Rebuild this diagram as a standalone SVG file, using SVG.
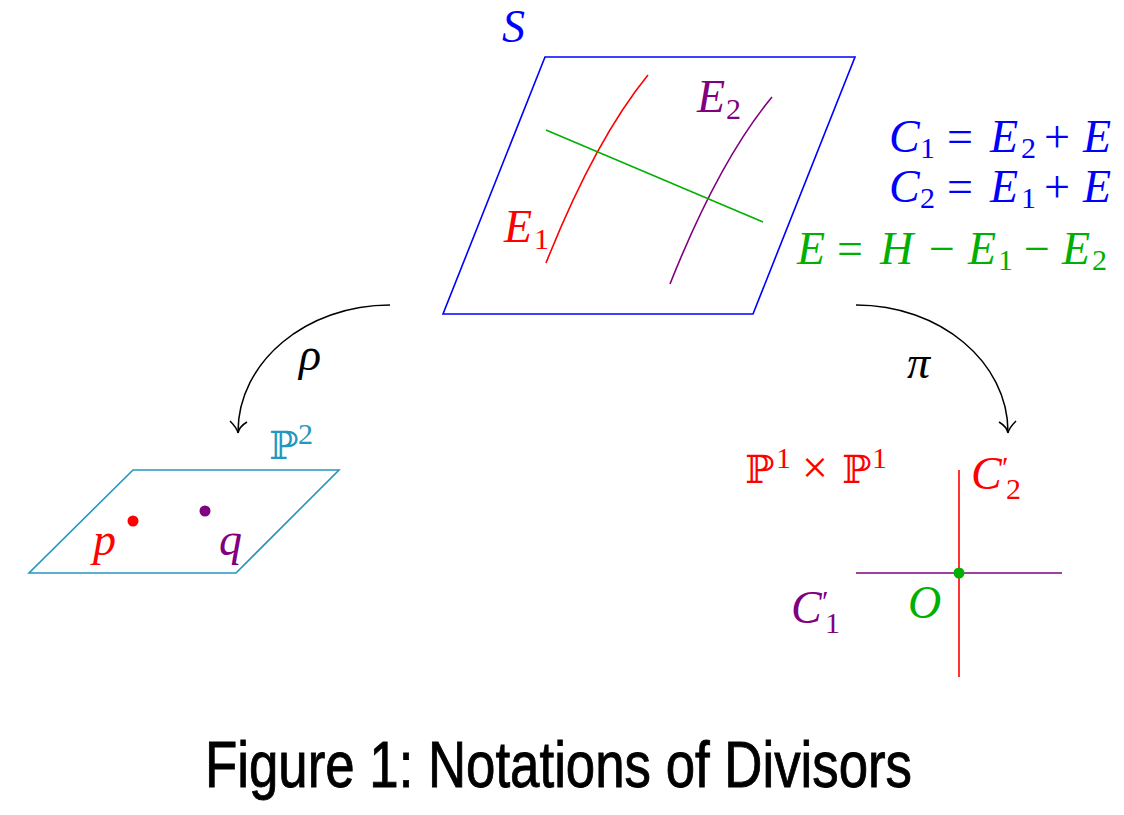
<svg xmlns="http://www.w3.org/2000/svg" width="1124" height="815" viewBox="0 0 1124 815">
<style>
.m{font-family:"Liberation Serif","DejaVu Serif",serif;font-style:italic;font-size:46px}
.s{font-family:"Liberation Serif","DejaVu Serif",serif;font-style:normal;font-size:30px}
.u{font-family:"Liberation Serif","DejaVu Serif",serif;font-style:normal;font-size:46px}
.bb{font-family:"DejaVu Serif","DejaVu Sans",serif;font-style:normal;font-size:39px}
.cap{font-family:"Liberation Sans",Arial,sans-serif;font-size:64px;fill:#000;stroke:#000;stroke-width:0.9}
.ln{fill:none;stroke-width:1.6}
.arc{fill:none;stroke:#000;stroke-width:1.5}
</style>
<rect width="1124" height="815" fill="#fff"/>
<g id="surface-S">
<polygon points="545,57 855,57 753,314 443,314" class="ln" stroke="#0000ff"/>
<path d="M648,75 Q595,140 546,263" class="ln" stroke="#ff0000"/>
<path d="M772,97 Q719,161 670,284" class="ln" stroke="#800080"/>
<line x1="546" y1="130" x2="763" y2="222" class="ln" stroke="#00b000"/>
<text class="m" x="502" y="42" fill="#0000ff">S</text>
<text fill="#ff0000"><tspan class="m" x="504" y="242">E</tspan><tspan class="s" x="534" y="249">1</tspan></text>
<text fill="#800080"><tspan class="m" x="697" y="112">E</tspan><tspan class="s" x="726" y="119">2</tspan></text>
</g>
<g id="formulas">
<text fill="#0000ff"><tspan class="m" x="889" y="152">C</tspan><tspan class="s" x="920" y="158">1</tspan><tspan class="u" x="947" y="152">=</tspan><tspan class="m" x="990" y="152">E</tspan><tspan class="s" x="1021" y="158">2</tspan><tspan class="u" x="1044" y="152">+</tspan><tspan class="m" x="1083" y="152">E</tspan></text>
<text fill="#0000ff"><tspan class="m" x="889" y="202">C</tspan><tspan class="s" x="920" y="208">2</tspan><tspan class="u" x="947" y="202">=</tspan><tspan class="m" x="990" y="202">E</tspan><tspan class="s" x="1021" y="208">1</tspan><tspan class="u" x="1044" y="202">+</tspan><tspan class="m" x="1083" y="202">E</tspan></text>
<text fill="#00b000"><tspan class="m" x="797" y="264">E</tspan><tspan class="u" x="837" y="264">=</tspan><tspan class="m" x="880" y="264">H</tspan><tspan class="u" x="929" y="264">−</tspan><tspan class="m" x="968" y="264">E</tspan><tspan class="s" x="998" y="270">1</tspan><tspan class="u" x="1024" y="264">−</tspan><tspan class="m" x="1062" y="264">E</tspan><tspan class="s" x="1092" y="270">2</tspan></text>
</g>
<g id="plane-P2">
<polygon points="133,470 339,470 236,573 29,573" class="ln" stroke="#2497bf"/>
<circle cx="133" cy="521" r="5.5" fill="#ff0000"/>
<circle cx="205" cy="511" r="5.5" fill="#800080"/>
<text class="m" x="93" y="555" fill="#ff0000">p</text>
<text class="m" x="219" y="555" fill="#800080">q</text>
<text fill="#2497bf"><tspan class="bb" x="269" y="459">ℙ</tspan><tspan class="s" x="298" y="444">2</tspan></text>
</g>
<g id="P1xP1">
<line x1="959" y1="470" x2="959" y2="677" class="ln" stroke="#ff0000"/>
<line x1="856" y1="573" x2="1062" y2="573" class="ln" stroke="#800080"/>
<circle cx="959" cy="573" r="5.5" fill="#00b000"/>
<text fill="#ff0000"><tspan class="bb" x="745" y="483">ℙ</tspan><tspan class="s" x="776" y="468">1</tspan><tspan class="u" x="802" y="483">×</tspan><tspan class="bb" x="842" y="483">ℙ</tspan><tspan class="s" x="872" y="468">1</tspan></text>
<text fill="#ff0000"><tspan class="m" x="971" y="489">C</tspan><tspan class="s" x="1002" y="477">′</tspan><tspan class="s" x="1006" y="499">2</tspan></text>
<text fill="#800080"><tspan class="m" x="791" y="623">C</tspan><tspan class="s" x="822" y="611">′</tspan><tspan class="s" x="825" y="633">1</tspan></text>
<text class="m" x="908" y="618" fill="#00b000">O</text>
</g>
<g id="connectors">
<path d="M390,305 C306,305 238,362 238,432" class="arc"/>
<path d="M230,421 C234,425 237,428 238,433 M247,422 C242,425 239,428 238,433" class="arc"/>
<text class="m" x="299" y="370" fill="#000">ρ</text>
<path d="M856,305 C940,305 1008,362 1008,432" class="arc"/>
<path d="M999,422 C1004,425 1007,428 1008,433 M1016,421 C1012,425 1009,428 1008,433" class="arc"/>
<text class="m" x="907" y="378" fill="#000">π</text>
</g>
<text class="cap" x="205" y="787" textLength="707" lengthAdjust="spacingAndGlyphs">Figure 1: Notations of Divisors</text>
</svg>
